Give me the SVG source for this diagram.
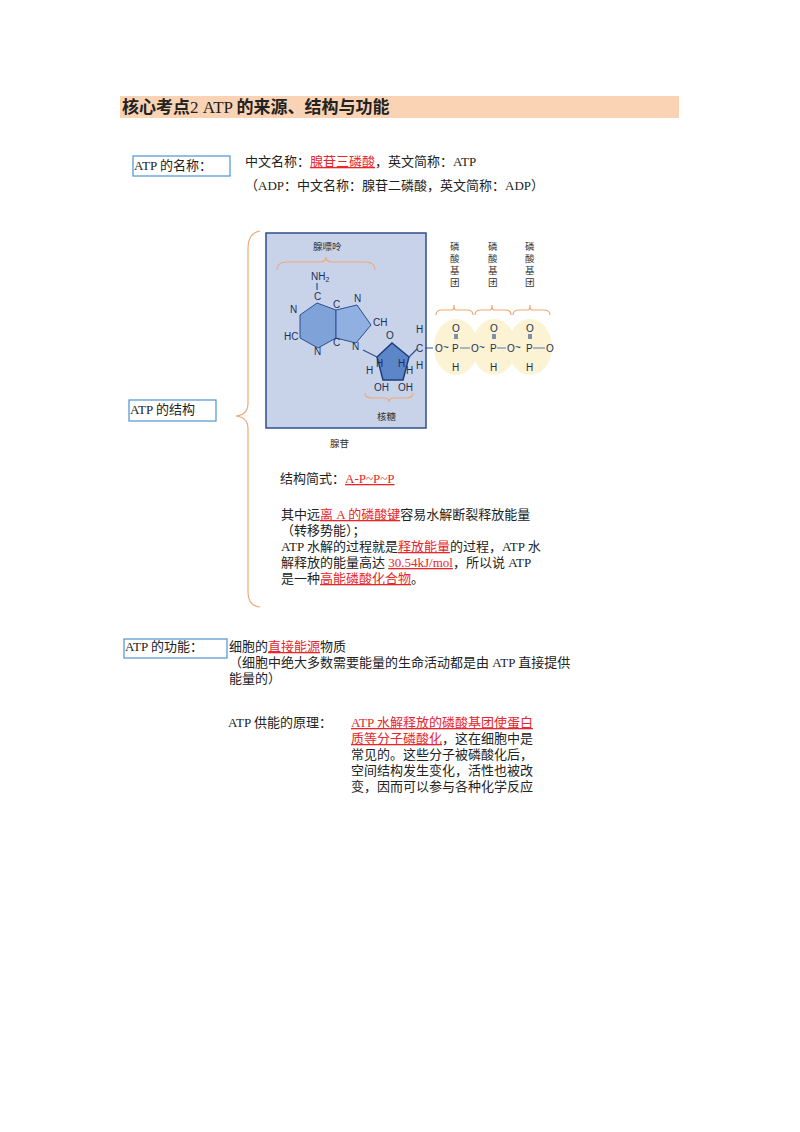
<svg xmlns="http://www.w3.org/2000/svg" width="800" height="1132" viewBox="0 0 800 1132">
<style>
text{font-family:"Liberation Serif","Noto Sans CJK SC",serif;font-size:13px;fill:#222}
.r{fill:#e8262b;text-decoration:underline}
.m{font-family:"Liberation Sans","Noto Sans CJK SC",sans-serif;font-size:10px;fill:#1e2f55}
.s{font-family:"Noto Sans CJK SC",serif;font-size:9.5px;fill:#333}
.box{fill:#fff;stroke:#5b9bd5;stroke-width:1.3}
.br{fill:none;stroke:#f0a873;stroke-width:1.2}
.bd{stroke:#2d4f8f;stroke-width:1.2;fill:none}
.bl{stroke:#5a78b0;stroke-width:1;fill:none}
</style>
<rect width="800" height="1132" fill="#fff"/>
<g id="title"><rect x="120" y="96" width="559" height="22" fill="#f9d3b4"/>
<text x="122" y="113" style="font-size:17px;font-weight:bold">核心考点<tspan style="font-weight:normal">2 ATP </tspan>的来源、结构与功能</text></g>
<g id="name"><rect class="box" x="133" y="156" width="97" height="20"/><text x="134" y="170">ATP 的名称：</text>
<text x="245" y="166">中文名称：<tspan class="r">腺苷三磷酸</tspan>，英文简称：ATP</text>
<text x="245" y="190">（ADP：中文名称：腺苷二磷酸，英文简称：ADP）</text></g>
<g id="connectors"><path class="br" d="M260,231 Q248,233 248,248 L248,403 Q248,415 236,416 Q248,417 248,429 L248,592 Q248,606 260,607"/></g>
<g id="struct"><rect class="box" x="129" y="400" width="87" height="21"/><text x="130" y="414">ATP 的结构</text></g>
<g id="molecule">
<ellipse cx="456" cy="347" rx="22" ry="28" fill="#fbf3d4"/><ellipse cx="494" cy="347" rx="22" ry="28" fill="#fbf3d4"/><ellipse cx="530" cy="347" rx="22" ry="28" fill="#fbf3d4"/>
<rect x="266" y="233" width="160" height="195" fill="#c8d3ea" stroke="#2f4f8a" stroke-width="1.5"/>
<text class="s" x="313" y="250">腺嘌呤</text>
<path class="br" d="M277,270 Q277,262 287,262 L320,262 Q326,262 326,257 Q326,262 332,262 L365,262 Q375,262 375,270"/>
<polygon points="300,315 317,303 336,310 336,338 318,348 300,338" fill="#7fa3d8" stroke="#2d4f8f"/>
<polygon points="336,310 357,305 371,325 356,343 336,338" fill="#8fb0e0" stroke="#2d4f8f"/>
<polygon points="377,357 392,343 409,357 403,380 383,380" fill="#5d86c8" stroke="#1f3f7a" stroke-width="1.5"/>
<path class="bd" d="M317,283 V290 M363,350 L377,357 M409,357 L417,349 M425,348 H433"/>
<text class="m" x="311" y="280">NH<tspan font-size="7" dy="2">2</tspan></text>
<text class="m" x="314" y="300">C</text><text class="m" x="290" y="313">N</text><text class="m" x="333" y="308">C</text>
<text class="m" x="354" y="302">N</text><text class="m" x="373" y="326">CH</text><text class="m" x="284" y="340">HC</text>
<text class="m" x="333" y="346">C</text><text class="m" x="314" y="355">N</text><text class="m" x="352" y="350">N</text>
<text class="m" x="386" y="339">O</text><text class="m" x="376" y="367">H</text><text class="m" x="398" y="367">H</text>
<text class="m" x="366" y="374">H</text><text class="m" x="406" y="374">H</text>
<text class="m" x="374" y="391">OH</text><text class="m" x="398" y="391">OH</text>
<text class="m" x="416" y="333">H</text><text class="m" x="416" y="352">C</text><text class="m" x="416" y="369">H</text>
<path class="br" d="M365,393 Q365,398 372,398 L384,398 Q389,398 389,402 Q389,398 394,398 L406,398 Q413,398 413,393"/>
<text class="s" x="377" y="420">核糖</text>
<text class="s" x="330" y="447">腺苷</text>
<text class="m" x="435" y="352">O</text><text class="m" x="443" y="351">~</text><text class="m" x="452" y="352">P</text>
<text class="m" x="471" y="352">O</text><text class="m" x="479" y="351">~</text><text class="m" x="490" y="352">P</text>
<text class="m" x="507" y="352">O</text><text class="m" x="515" y="351">~</text><text class="m" x="526" y="352">P</text>
<text class="m" x="546" y="352">O</text>
<path class="bl" d="M460,348 H470 M497,348 H506 M533,348 H545"/>
<text class="m" x="452" y="332">O</text><text class="m" x="490" y="332">O</text><text class="m" x="526" y="332">O</text>
<text class="m" x="452" y="371">H</text><text class="m" x="490" y="371">H</text><text class="m" x="526" y="371">H</text>
<path class="bd" d="M455,334 V339 M457,334 V339 M493,334 V339 M495,334 V339 M529,334 V339 M531,334 V339"/>
<text class="s" x="450" y="250">磷</text><text class="s" x="450" y="262">酸</text><text class="s" x="450" y="274">基</text><text class="s" x="450" y="286">团</text>
<text class="s" x="488" y="250">磷</text><text class="s" x="488" y="262">酸</text><text class="s" x="488" y="274">基</text><text class="s" x="488" y="286">团</text>
<text class="s" x="525" y="250">磷</text><text class="s" x="525" y="262">酸</text><text class="s" x="525" y="274">基</text><text class="s" x="525" y="286">团</text>
<path class="br" d="M436,315 Q436,310 442,310 L452,310 Q454,310 454,305 Q454,310 456,310 L467,310 Q473,310 473,315 M475,315 Q475,310 481,310 L490,310 Q492,310 492,305 Q492,310 494,310 L505,310 Q511,310 511,315 M513,315 Q513,310 519,310 L528,310 Q530,310 530,305 Q530,310 532,310 L544,310 Q550,310 550,315"/>
</g>
<g id="formula"><text x="280" y="483">结构简式：<tspan class="r">A-P~P~P</tspan></text>
<text x="281" y="519">其中远<tspan class="r">离 A 的磷酸键</tspan>容易水解断裂释放能量</text>
<text x="281" y="535">（转移势能）；</text>
<text x="281" y="551">ATP 水解的过程就是<tspan class="r">释放能量</tspan>的过程，ATP 水</text>
<text x="281" y="567">解释放的能量高达 <tspan class="r">30.54kJ/mol</tspan>，所以说 ATP</text>
<text x="281" y="583">是一种<tspan class="r">高能磷酸化合物</tspan>。</text></g>
<g id="func"><rect class="box" x="124" y="639" width="103" height="19"/><text x="125" y="651">ATP 的功能：</text>
<text x="229" y="651">细胞的<tspan class="r">直接能源</tspan>物质</text>
<text x="229" y="667">（细胞中绝大多数需要能量的生命活动都是由 ATP 直接提供</text>
<text x="229" y="683">能量的）</text></g>
<g id="principle"><text x="228" y="727">ATP 供能的原理：</text>
<text x="351" y="727" class="r">ATP 水解释放的磷酸基团使蛋白</text>
<text x="351" y="743"><tspan class="r">质等分子磷酸化</tspan>，这在细胞中是</text>
<text x="351" y="759">常见的。这些分子被磷酸化后，</text>
<text x="351" y="775">空间结构发生变化，活性也被改</text>
<text x="351" y="791">变，因而可以参与各种化学反应</text></g>
</svg>
